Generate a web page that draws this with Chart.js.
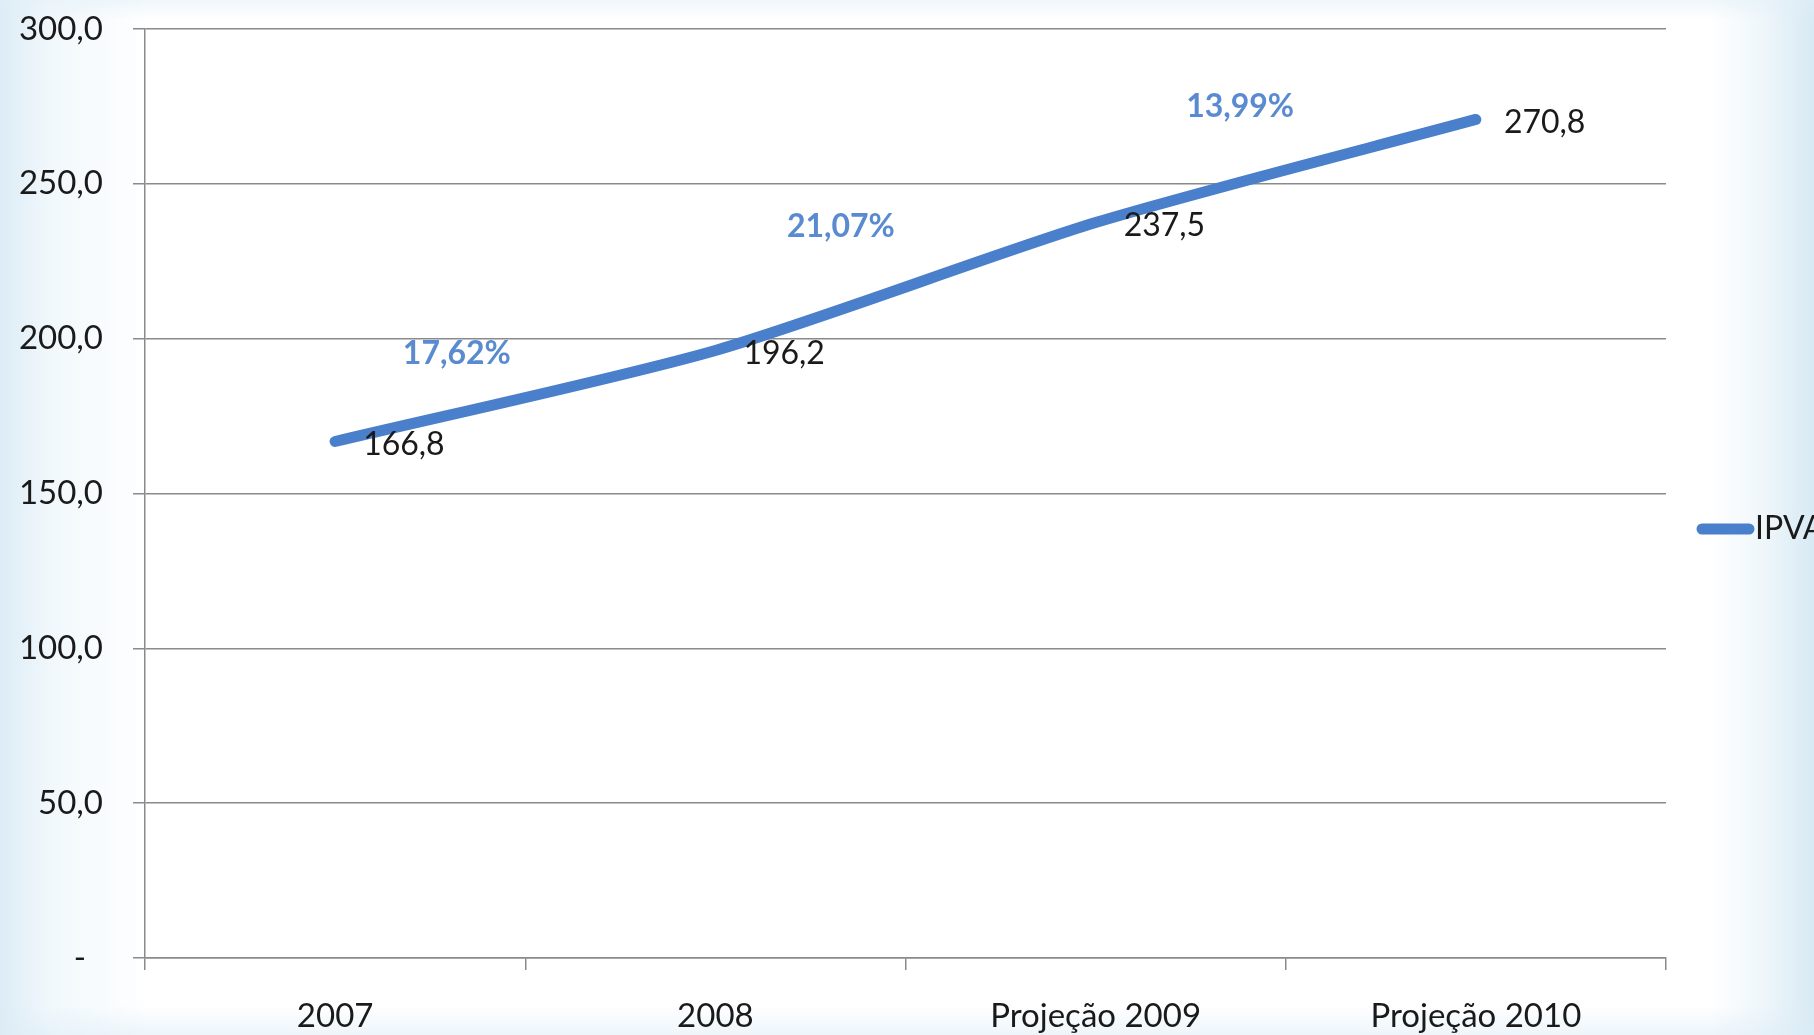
<!DOCTYPE html>
<html>
<head>
  <meta charset="utf-8">
  <title>IPVA</title>
  <script src="https://cdn.jsdelivr.net/npm/chart.js"></script>
  <style>
    html, body { margin: 0; padding: 0; overflow: hidden; }
    body {
      width: 1814px; height: 1035px;
      background:
        linear-gradient(to bottom, rgba(225,239,247,0.5) 0px, rgba(255,255,255,0) 20px, rgba(255,255,255,0) 1005px, rgba(220,236,246,0.5) 1035px),
        linear-gradient(to right, #dcecf5 0px, #f1f8fc 50px, #ffffff 150px, #ffffff 1710px, #eef6fa 1765px, #d7eaf4 1814px);
    }
    #chart-container { width: 1814px; height: 1035px; }
  </style>
</head>
<body>
  <div id="chart-container">
    <canvas id="ipvaChart"></canvas>
  </div>
  <script>
    const categories = ['2007', '2008', 'Projeção 2009', 'Projeção 2010'];
    const ipvaValues = [166.8, 196.2, 237.5, 270.8];
    const growthLabels = ['17,62%', '21,07%', '13,99%'];
    const yTicks = [0, 50, 100, 150, 200, 250, 300];

    const BLUE = '#4a7fcb';
    const FONT = 'Lato, "Open Sans", sans-serif';

    function fmt(v) {
      return v === 0 ? '-  ' : v.toFixed(1).replace('.', ',');
    }

    // value labels, growth labels and the legend drawn after the chart
    const labelPlugin = {
      id: 'labels',
      afterDatasetsDraw(chart) {
        const ctx = chart.ctx;
        const x = chart.scales.x, y = chart.scales.y;
        const meta = chart.getDatasetMeta(0);
        ctx.save();
        ctx.font = '32px ' + FONT;
        ctx.fillStyle = '#1a1a1a';
        ctx.textAlign = 'left';
        ctx.textBaseline = 'middle';
        meta.data.forEach((pt, i) => {
          ctx.fillText(fmt(ipvaValues[i]), pt.x + 28, pt.y + 3);
        });

        // growth percentages between the years
        const step = x.getPixelForValue(1) - x.getPixelForValue(0);
        const xFrac = [0.32, 0.33, 0.38];
        const yAt = [195, 236, 275];
        ctx.font = 'bold 32px ' + FONT;
        ctx.fillStyle = '#5a8ad0';
        ctx.textAlign = 'center';
        growthLabels.forEach((t, i) => {
          ctx.fillText(t, x.getPixelForValue(i) + xFrac[i] * step, y.getPixelForValue(yAt[i]));
        });

        // legend
        const ds = chart.data.datasets[0];
        const lx = chart.chartArea.right + 36, ly = 529;
        ctx.strokeStyle = ds.borderColor;
        ctx.lineWidth = 11;
        ctx.lineCap = 'round';
        ctx.beginPath();
        ctx.moveTo(lx, ly);
        ctx.lineTo(lx + 47, ly);
        ctx.stroke();
        ctx.font = '32px ' + FONT;
        ctx.fillStyle = '#1a1a1a';
        ctx.textAlign = 'left';
        ctx.fillText(ds.label, lx + 53, ly);
        ctx.restore();
      }
    };

    new Chart(document.getElementById('ipvaChart'), {
      type: 'line',
      data: {
        labels: categories,
        datasets: [{
          label: 'IPVA',
          data: ipvaValues,
          borderColor: BLUE,
          backgroundColor: BLUE,
          borderWidth: 11,
          borderCapStyle: 'round',
          borderJoinStyle: 'round',
          pointRadius: 0,
          tension: 0.25,
          fill: false
        }]
      },
      options: {
        responsive: true,
        maintainAspectRatio: false,
        devicePixelRatio: 1,
        animation: false,
        layout: { padding: { top: 29, right: 148, left: 0, bottom: 0 } },
        plugins: { legend: { display: false }, tooltip: { enabled: false } },
        scales: {
          x: {
            offset: true,
            grid: { display: true, offset: true, drawOnChartArea: false, color: '#8a8a8a', lineWidth: 1.5, tickLength: 12 },
            border: { color: '#8a8a8a', width: 1.5 },
            ticks: { color: '#1a1a1a', font: { family: FONT, size: 33 }, padding: 27, maxRotation: 0 },
            afterFit(s) { s.height = 77; }
          },
          y: {
            min: 0,
            max: 300,
            afterBuildTicks(s) { s.ticks = yTicks.map(v => ({ value: v })); },
            grid: { color: '#8a8a8a', lineWidth: 1.5, tickLength: 12 },
            border: { color: '#8a8a8a', width: 1.5 },
            ticks: { color: '#1a1a1a', font: { family: FONT, size: 33 }, padding: 30, callback: v => fmt(v) },
            afterFit(s) { s.width = 145; s.paddingTop = 0; s.paddingBottom = 0; }
          }
        }
      },
      plugins: [labelPlugin]
    });
  </script>
</body>
</html>
